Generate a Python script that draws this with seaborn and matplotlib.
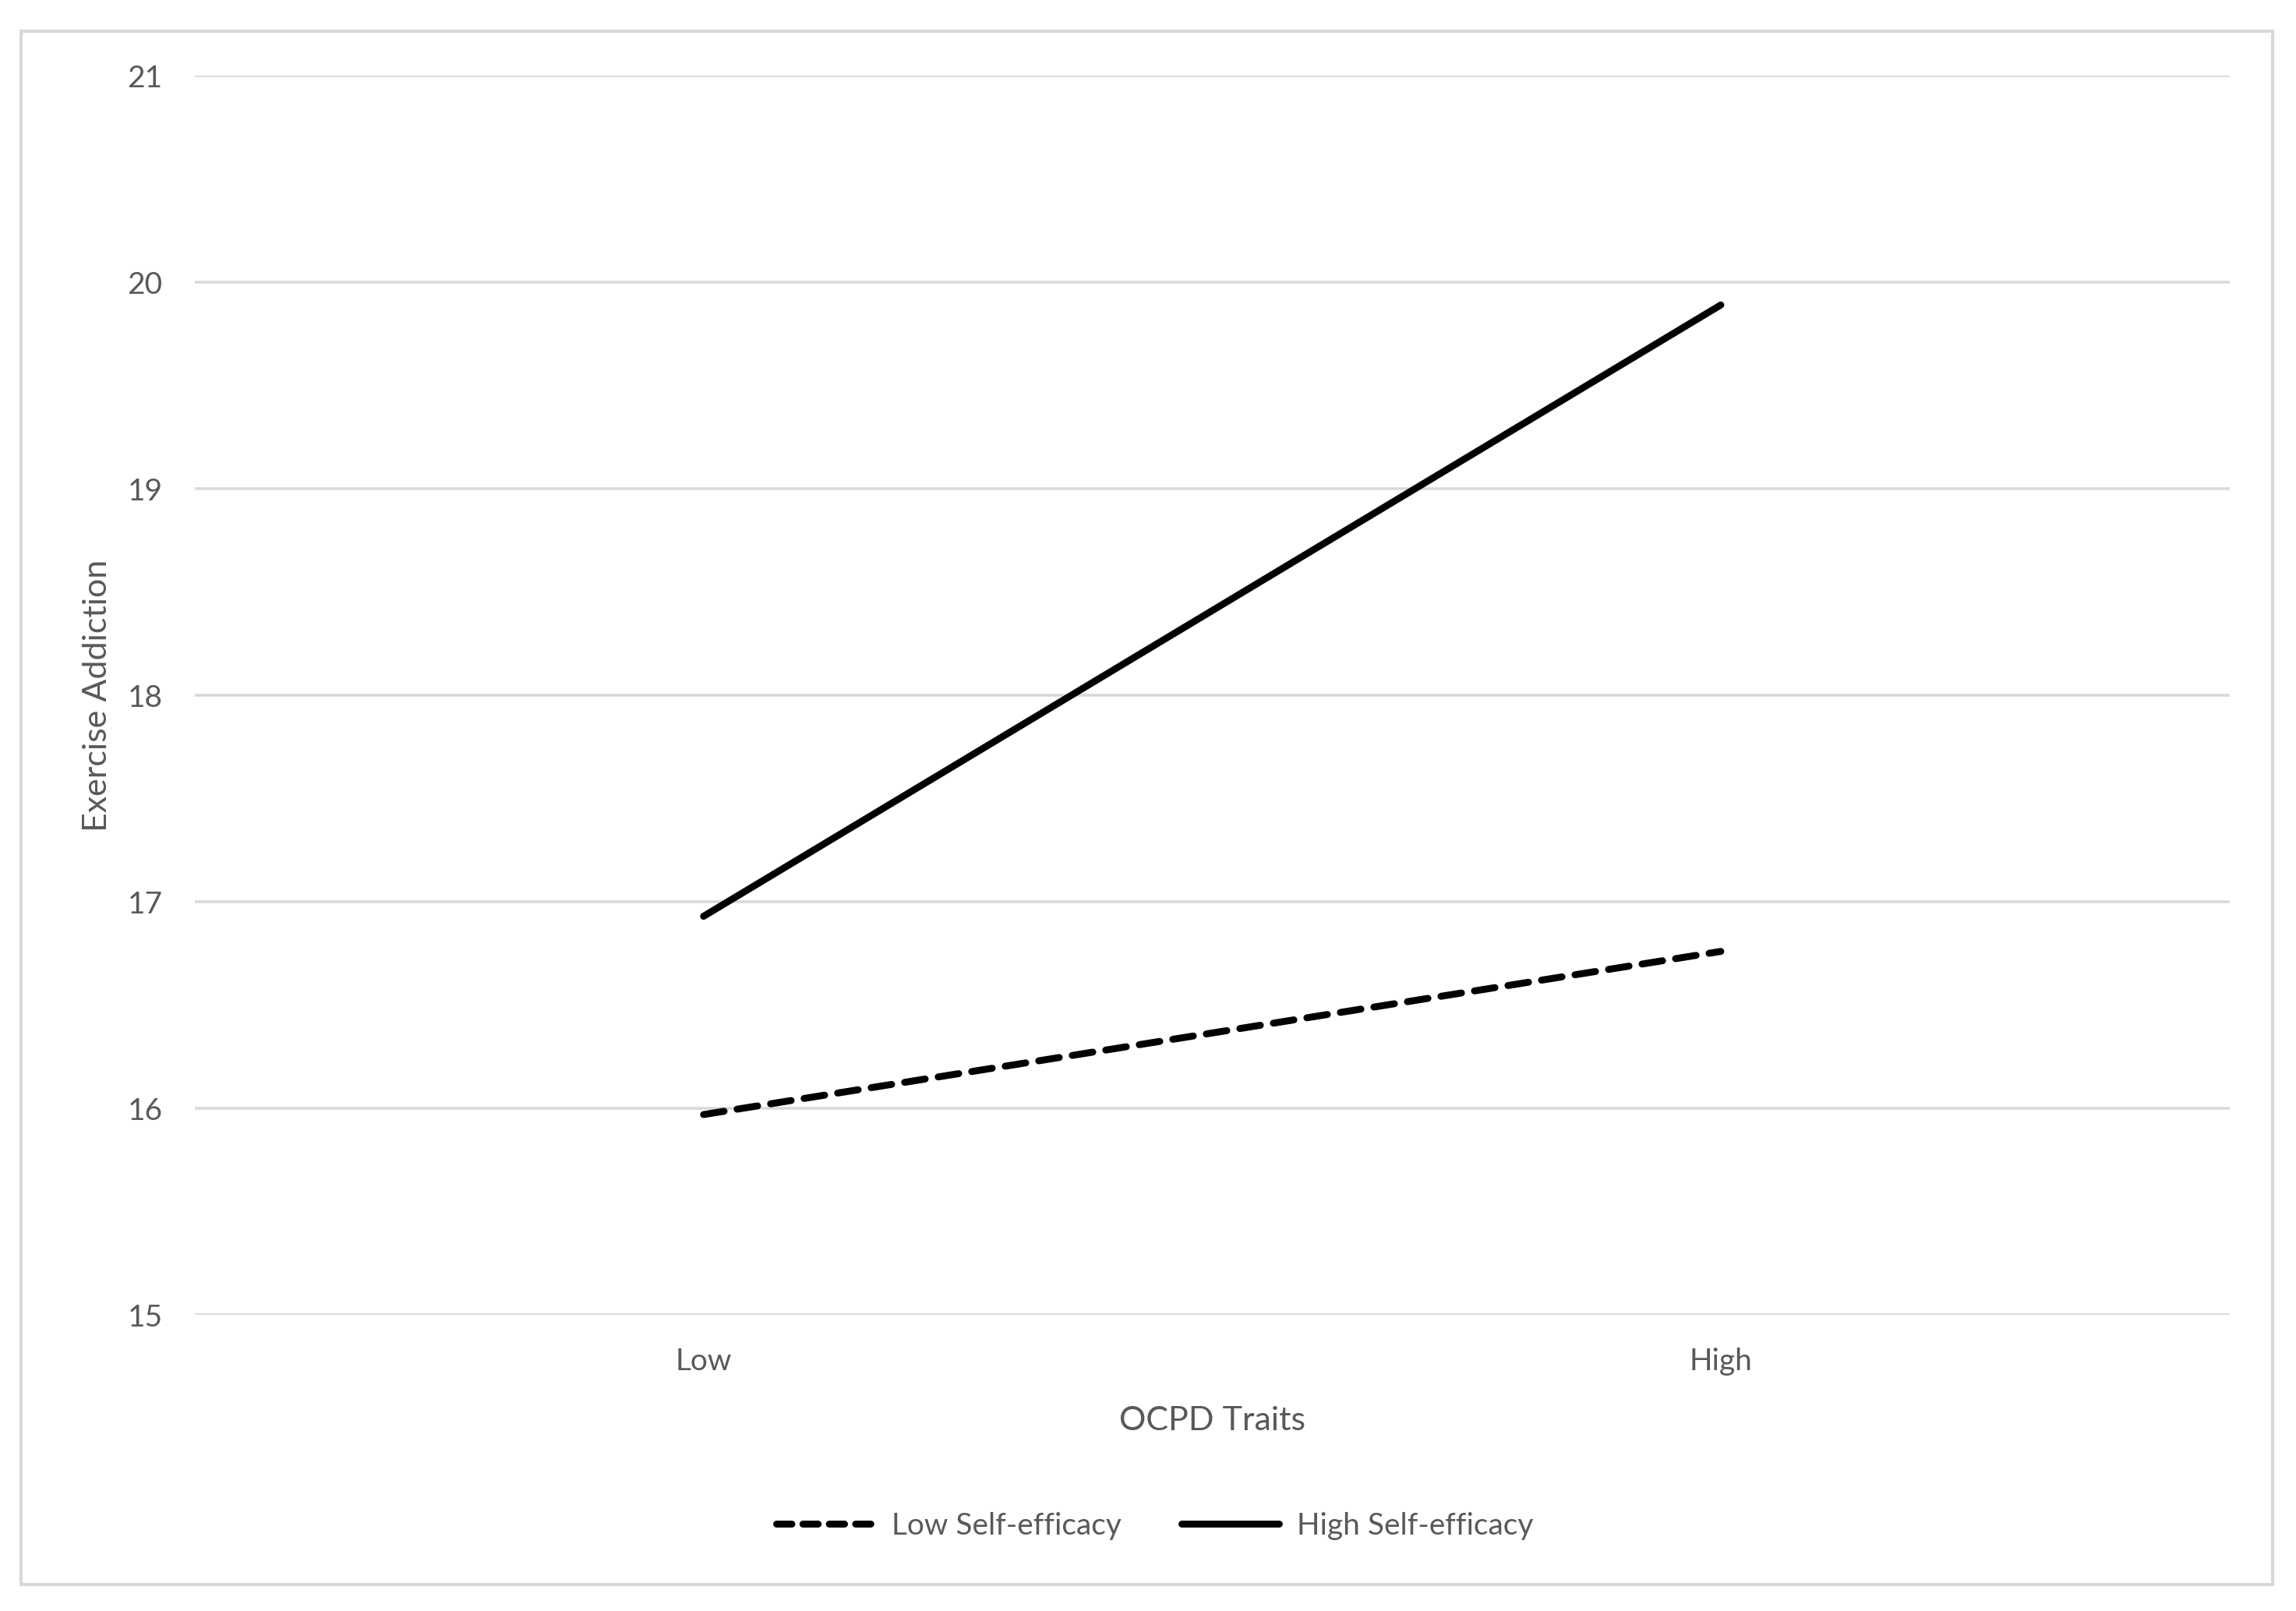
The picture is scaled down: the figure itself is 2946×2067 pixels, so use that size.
import matplotlib
matplotlib.use('Agg')
import matplotlib.pyplot as plt
from matplotlib.patches import Rectangle
import seaborn as sns
import pandas as pd

# Dados
ocpd_levels = ["Low", "High"]
low_self_efficacy = [15.97, 16.76]
high_self_efficacy = [16.93, 19.89]
group_names = ["Low Self-efficacy", "High Self-efficacy"]
y_ticks = [15, 16, 17, 18, 19, 20, 21]

df = pd.DataFrame({
    "OCPD Traits": ocpd_levels * 2,
    "Exercise Addiction": low_self_efficacy + high_self_efficacy,
    "group": [group_names[0]] * 2 + [group_names[1]] * 2,
})

sns.set_style("white")
plt.rcParams['font.family'] = ['Lato', 'DejaVu Sans']
text_gray = "#595959"
grid_gray = "#d9d9d9"

fig = plt.figure(figsize=(14.73, 10.335), dpi=200)
ax = fig.add_axes([0.0849, 0.1838, 0.971 - 0.0849, 0.953 - 0.1838])

sns.lineplot(data=df, x="OCPD Traits", y="Exercise Addiction", hue="group",
             style="group", palette=["black", "black"],
             dashes={group_names[0]: (3.0, 1.9), group_names[1]: ""},
             linewidth=3.2, ax=ax, legend=False, sort=False)
for line in ax.lines:
    line.set_solid_capstyle("round")
    line.set_dash_capstyle("round")

ax.set_xlim(-0.5, 1.5)
ax.set_ylim(15, 21)
ax.set_yticks(y_ticks)
ax.yaxis.grid(True, color=grid_gray, linewidth=1.3)
ax.set_axisbelow(True)
for s in ax.spines.values():
    s.set_visible(False)
ax.tick_params(axis="both", length=0, colors=text_gray, labelsize=14)
ax.tick_params(axis="y", pad=15)
ax.tick_params(axis="x", pad=15)
ax.set_xlabel("OCPD Traits", fontsize=15.5, color=text_gray, labelpad=14)
ax.set_ylabel("Exercise Addiction", fontsize=15.5, color=text_gray, labelpad=7)

# Legenda manual com as mesmas linhas
handles = [plt.Line2D([], [], color="black", linewidth=3.2, dashes=(2.2, 1.6),
                      dash_capstyle="round"),
           plt.Line2D([], [], color="black", linewidth=3.2, solid_capstyle="round")]
leg = fig.legend(handles, group_names, loc="center", bbox_to_anchor=(0.503, 0.0527),
                 ncol=2, frameon=False, fontsize=14, handlelength=3.2,
                 columnspacing=2.0, handletextpad=0.6)
for t in leg.get_texts():
    t.set_color(text_gray)

# Borda externa do gráfico
fig.patches.append(Rectangle((27 / 2946, 1 - 2033 / 2067), (2916 - 27) / 2946,
                             (2033 - 40) / 2067, transform=fig.transFigure,
                             fill=False, edgecolor=grid_gray, linewidth=1.5))

fig.savefig("out.png", dpi=200)
plt.close(fig)
